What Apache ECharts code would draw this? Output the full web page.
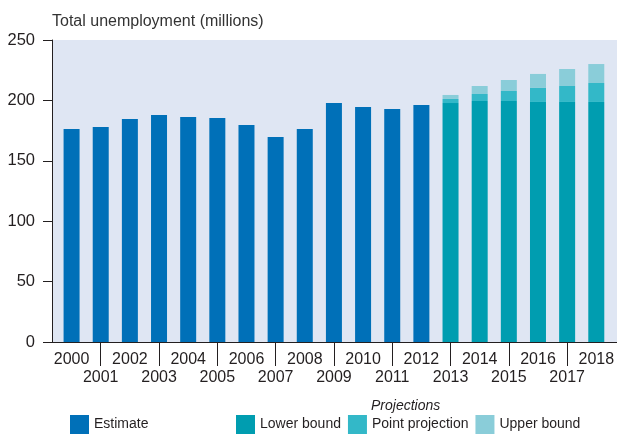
<!DOCTYPE html>
<html>
<head>
<meta charset="utf-8">
<script src="https://cdn.jsdelivr.net/npm/echarts@6/dist/echarts.min.js"></script>
<style>
html,body{margin:0;padding:0;background:#fff;}
#chart{width:617px;height:434px;}
</style>
</head>
<body>
<div id="chart"></div>
<script>
const years = ['2000','2001','2002','2003','2004','2005','2006','2007','2008','2009','2010','2011','2012','2013','2014','2015','2016','2017','2018'];
const estimate = [176.3,178,184.6,187.9,186.3,185.4,179.6,169.7,176.3,197.8,194.5,192.9,196.2,'-','-','-','-','-','-'];
const lowerBound = ['-','-','-','-','-','-','-','-','-','-','-','-','-',197.8,199.5,199.5,198.7,198.7,198.7];
const pointProjection = ['-','-','-','-','-','-','-','-','-','-','-','-','-',201.2,205.3,207.8,210.3,211.9,214.4];
const upperBound = ['-','-','-','-','-','-','-','-','-','-','-','-','-',204.5,211.9,216.9,221.9,226.0,230.1];
const yTicks = [0,50,100,150,200,250];

const diff = (a,b) => a.map((v,i) => (v === '-' || b[i] === '-') ? '-' : +(v - b[i]).toFixed(2));
const pointInc = diff(pointProjection, lowerBound);
const upperInc = diff(upperBound, pointProjection);

const font = '"Liberation Sans",Arial,sans-serif';
const ink = '#231f20';

const chart = echarts.init(document.getElementById('chart'), null, {renderer:'canvas'});
chart.setOption({
  animation: false,
  title: [
    {text: 'Total unemployment (millions)', left: 47, top: 9,
     textStyle: {fontFamily: font, fontSize: 16, fontWeight: 'normal', color: '#333'}},
    {text: 'Projections', left: 366, top: 394,
     textStyle: {fontFamily: font, fontSize: 14, fontStyle: 'italic', fontWeight: 'normal', color: ink}}
  ],
  grid: [
    {left: 52, right: 0, top: 40, bottom: 92, show: true, backgroundColor: '#dfe6f3', borderWidth: 0},
    {left: 57, right: 3, top: 40, bottom: 92}
  ],
  legend: [
    {data: ['Estimate'], left: 70, top: 415, padding: 0, itemWidth: 19, itemHeight: 19, icon: 'rect', itemGap: 7,
     textStyle: {fontFamily: font, fontSize: 14, color: ink}},
    {data: ['Lower bound','Point projection','Upper bound'], left: 236, top: 415, padding: 0, itemWidth: 19, itemHeight: 19, icon: 'rect', itemGap: 7,
     textStyle: {fontFamily: font, fontSize: 14, color: ink}}
  ],
  xAxis: [
    {gridIndex: 0, type: 'value', min: 0, max: 1, axisLine: {show: true, lineStyle: {color: ink, width: 1}},
     axisTick: {show: false}, axisLabel: {show: false}, splitLine: {show: false}},
    {gridIndex: 1, type: 'category', data: years, boundaryGap: true,
     axisLine: {show: false},
     axisTick: {show: true, alignWithLabel: true, length: 24, interval: (i) => i % 2 === 1, lineStyle: {color: ink, width: 1}},
     axisLabel: {interval: 0, margin: 9, fontFamily: font, fontSize: 16, color: ink, lineHeight: 18,
       formatter: (v, i) => (i % 2 === 1 ? '\n' + v : v)}}
  ],
  yAxis: [
    {gridIndex: 0, type: 'value', min: 0, max: 250, interval: 50,
     axisLine: {show: true, lineStyle: {color: ink, width: 1}},
     axisTick: {show: true, length: 9, lineStyle: {color: ink}},
     axisLabel: {margin: 17, fontFamily: font, fontSize: 16.5, color: ink,
       formatter: (v) => yTicks.includes(v) ? String(v) : ''},
     splitLine: {show: false}},
    {gridIndex: 1, type: 'value', min: 0, max: 250, interval: 50, show: false, splitLine: {show: false}}
  ],
  series: [
    {name: 'Estimate', type: 'bar', xAxisIndex: 1, yAxisIndex: 1, stack: 'u', barWidth: 16, data: estimate, itemStyle: {color: '#0070b8'}},
    {name: 'Lower bound', type: 'bar', xAxisIndex: 1, yAxisIndex: 1, stack: 'u', barWidth: 16, data: lowerBound, itemStyle: {color: '#009db0'}},
    {name: 'Point projection', type: 'bar', xAxisIndex: 1, yAxisIndex: 1, stack: 'u', barWidth: 16, data: pointInc, itemStyle: {color: '#33b8c8'}},
    {name: 'Upper bound', type: 'bar', xAxisIndex: 1, yAxisIndex: 1, stack: 'u', barWidth: 16, data: upperInc, itemStyle: {color: '#8acdd9'}}
  ]
});
</script>
</body>
</html>
